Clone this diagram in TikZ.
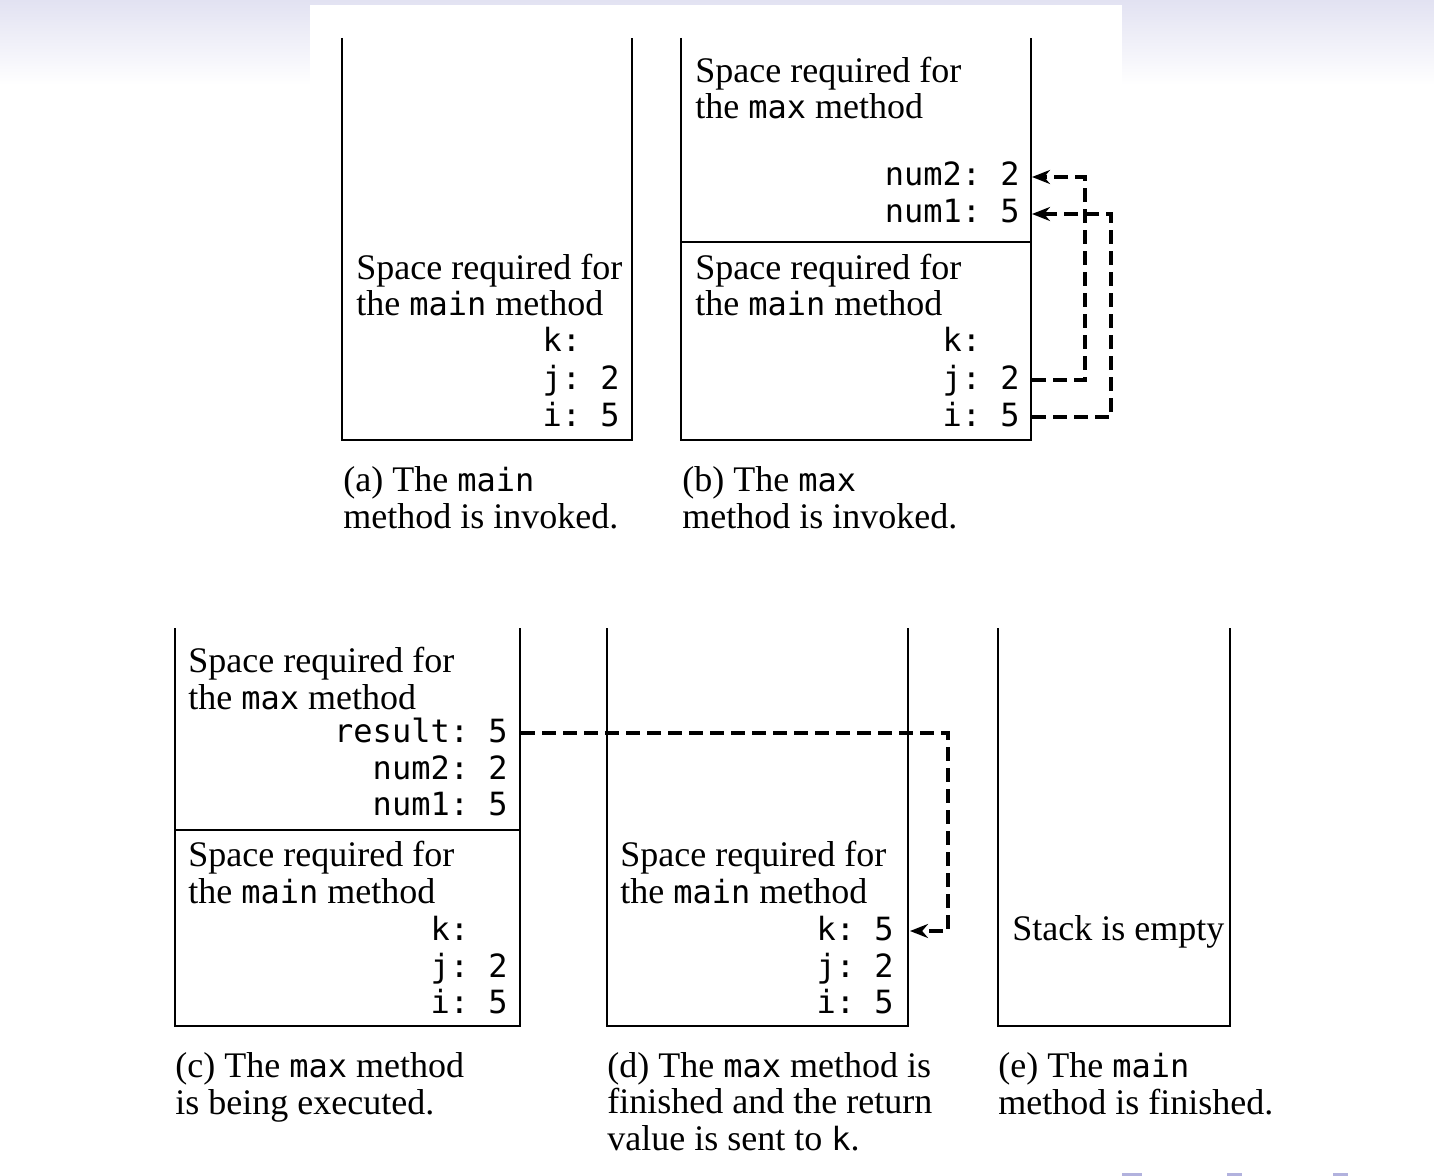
\documentclass[tikz,border=0pt]{standalone}
\usepackage{fontspec}
\setmainfont{Liberation Serif}
\setmonofont{DejaVu Sans Mono}
\usetikzlibrary{arrows.meta}
\definecolor{slidebg}{RGB}{226,226,242}
\definecolor{slidemark}{RGB}{178,178,222}
\newcommand{\code}[1]{{\fontsize{16}{18}\selectfont\ttfamily #1}}
\tikzset{
  frame/.style={line width=1.2pt},
  txt/.style={inner sep=0pt, font=\fontsize{18}{18.2}\selectfont, align=left, anchor=base west},
  var/.style={inner sep=0pt, text height=9pt, text depth=0pt, font=\fontsize{16}{18}\selectfont\ttfamily, anchor=base east},
  link/.style={line width=1.8pt, dash pattern=on 7pt off 3.5pt},
  >={Stealth[length=9pt,width=7pt]}
}
\begin{document}
\begin{tikzpicture}[x=0.5pt,y=-0.5pt]
    \useasboundingbox (0,0) rectangle (1434,1176);
    \fill[top color=slidebg, bottom color=white] (0,0) rectangle (1434,85);
    \fill[white] (310,5) rectangle (1122,85);
    \fill[slidemark] (1122,1173) rectangle (1142,1176);
    \fill[slidemark] (1227,1173) rectangle (1242,1176);
    \fill[slidemark] (1333,1173) rectangle (1348,1176);
    % (a) main invoked
    \draw[frame] (342,38) |- (632,440) -- (632,38);
    \node[txt] (ha) at (356,316) {Space required for\\the \code{main} method};
    \node[var] (ak) at (620,352) {k:\phantom{ 5}};
    \node[var] (aj) at (620,389) {j: 2};
    \node[var] (ai) at (620,426) {i: 5};
    \node[txt] (capa) at (343,528) {(a) The \code{main}\\method is invoked.};
    % (b) max invoked
    \draw[frame] (681,38) |- (1031,440) -- (1031,38);
    \draw[frame] (681,242) -- (1031,242);
    \coordinate (bR) at (1032,0);
    \node[txt] (hbmax) at (695,119) {Space required for\\the \code{max} method};
    \node[var] (bn2) at (1020,186) {num2: 2};
    \node[var] (bn1) at (1020,223) {num1: 5};
    \node[txt] (hbmain) at (695,316) {Space required for\\the \code{main} method};
    \node[var] (bk) at (1020,352) {k:\phantom{ 5}};
    \node[var] (bj) at (1020,389) {j: 2};
    \node[var] (bi) at (1020,426) {i: 5};
    \node[txt] (capb) at (682,528) {(b) The \code{max}\\method is invoked.};
    \draw[link,->] (bj -| bR) -- ++(53,0) |- (bn2 -| bR);
    \draw[link,->] (bi -| bR) -- ++(79,0) |- (bn1 -| bR);
    % (c) max executed
    \draw[frame] (175,628) |- (520,1026) -- (520,628);
    \draw[frame] (175,830) -- (520,830);
    \coordinate (cR) at (521,0);
    \node[txt] (hcmax) at (188,709) {Space required for\\the \code{max} method};
    \node[var] (cres) at (508,742) {result: 5};
    \node[var] (cn2) at (508,779) {num2: 2};
    \node[var] (cn1) at (508,815) {num1: 5};
    \node[txt] (hcmain) at (188,903) {Space required for\\the \code{main} method};
    \node[var] (ck) at (508,940) {k:\phantom{ 5}};
    \node[var] (cj) at (508,977) {j: 2};
    \node[var] (ci) at (508,1013) {i: 5};
    \node[txt] (capc) at (175,1114) {(c) The \code{max} method\\is being executed.};
    % (d) max finished
    \draw[frame] (607,628) |- (908,1026) -- (908,628);
    \coordinate (dR) at (910,0);
    \node[txt] (hdmain) at (620,903) {Space required for\\the \code{main} method};
    \node[var] (dk) at (894,940) {k: 5};
    \node[var] (dj) at (894,977) {j: 2};
    \node[var] (di) at (894,1013) {i: 5};
    \node[txt] (capd) at (607,1150) {(d) The \code{max} method is\\finished and the return\\value is sent to \code{k}.};
    \draw[link,->] (cres -| cR) -- ++(427,0) |- (dk -| dR);
    % (e) main finished
    \draw[frame] (998,628) |- (1230,1026) -- (1230,628);
    \node[txt] (he) at (1012,940) {Stack is empty};
    \node[txt] (cape) at (998,1114) {(e) The \code{main}\\method is finished.};
\end{tikzpicture}
\end{document}
